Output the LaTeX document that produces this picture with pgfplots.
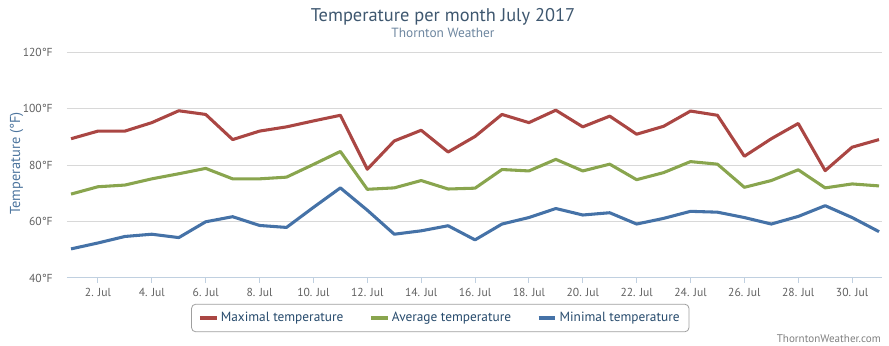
\documentclass[border=0pt]{standalone}
\usepackage{fontspec}
\setmainfont{PT Sans}
\usepackage{pgfplots}
\pgfplotsset{compat=1.18}
\definecolor{cmax}{HTML}{AA4643}
\definecolor{cavg}{HTML}{89A54E}
\definecolor{cmin}{HTML}{4572A7}
\definecolor{titlec}{HTML}{3E576F}
\definecolor{subc}{HTML}{6D869F}
\definecolor{ticklab}{HTML}{606060}
\definecolor{axline}{HTML}{C0D0E0}
\definecolor{gridc}{HTML}{D8D8D8}
\definecolor{ylabc}{HTML}{4D759E}
\definecolor{legtext}{HTML}{274B6D}
\begin{document}
\begin{tikzpicture}[x=1pt,y=1pt]
\useasboundingbox (-50.25,-51) rectangle (616.5,208.5);
\begin{axis}[
  at={(0,0)}, anchor=south west,
  scale only axis, width=611.25pt, height=169.5pt,
  xmin=0.85, xmax=31.11, ymin=40, ymax=120,
  ytick={40,60,80,100,120},
  xtick={2,4,...,30},
  axis x line=bottom, axis y line=left,
  axis line style={-},
  x axis line style={draw=axline, line width=0.75pt},
  y axis line style={draw=none},
  ymajorgrids, grid style={draw=gridc, line width=0.75pt},
  major y tick style={draw=none},
  major x tick style={draw=axline, line width=0.75pt},
  tick align=outside, major tick length=3.75pt,
  /pgf/number format/assume math mode=true,
  yticklabel={\pgfmathprintnumber{\tick}°F},
  xticklabel={\pgfmathprintnumber{\tick}. Jul},
  yticklabel style={font=\fontsize{8.7}{10}\selectfont, text=ticklab, anchor=east, inner sep=0pt, xshift=-6.75pt},
  xticklabel style={font=\fontsize{8.7}{10}\selectfont, text=ticklab, anchor=north, inner sep=0pt, yshift=-4pt},
  ylabel={Temperature (°F)},
  ylabel style={at={(rel axis cs:-0.062,0.507)}, anchor=center, rotate=0, font=\fontsize{10.8}{12}\selectfont, text=ylabc},
  legend columns=3,
  legend style={at={(0.458,-0.177)}, anchor=center, draw=gray!75, rounded corners=3pt, line width=0.6pt,
    font=\fontsize{10}{12}\selectfont, text=legtext, inner xsep=5pt, inner ysep=4pt,
    /tikz/every even column/.append style={column sep=17.5pt}},
  legend image code/.code={\draw[#1, line width=2.4pt] (0pt,0pt) -- (12.5pt,0pt);},
  every axis plot/.append style={line width=2.3pt, line join=round, mark=none},
]
\addplot[cmax] coordinates {
(1,89.3)(2,92.0)(3,92.0)(4,95.0)(5,99.2)(6,97.9)(7,89.0)(8,92.0)(9,93.5)(10,95.6)
(11,97.6)(12,78.5)(13,88.5)(14,92.3)(15,84.6)(16,90.1)(17,97.9)(18,95.0)(19,99.4)(20,93.5)
(21,97.3)(22,90.9)(23,93.7)(24,99.1)(25,97.6)(26,83.1)(27,89.3)(28,94.7)(29,78.0)(30,86.3)(31,89.0)};
\addlegendentry{Maximal temperature}
\addplot[cavg] coordinates {
(1,69.7)(2,72.3)(3,72.9)(4,75.1)(5,76.9)(6,78.8)(7,75.1)(8,75.1)(9,75.7)(10,80.2)
(11,84.8)(12,71.4)(13,71.9)(14,74.5)(15,71.5)(16,71.8)(17,78.4)(18,77.9)(19,82.0)(20,77.9)
(21,80.3)(22,74.8)(23,77.3)(24,81.2)(25,80.3)(26,72.1)(27,74.5)(28,78.3)(29,71.9)(30,73.3)(31,72.6)};
\addlegendentry{Average temperature}
\addplot[cmin] coordinates {
(1,50.3)(2,52.4)(3,54.7)(4,55.5)(5,54.3)(6,59.9)(7,61.7)(8,58.6)(9,57.9)(10,65.0)
(11,71.9)(12,64.0)(13,55.5)(14,56.7)(15,58.5)(16,53.5)(17,59.1)(18,61.4)(19,64.6)(20,62.3)
(21,63.1)(22,59.1)(23,61.1)(24,63.6)(25,63.3)(26,61.4)(27,59.1)(28,61.8)(29,65.6)(30,61.4)(31,56.4)};
\addlegendentry{Minimal temperature}
\end{axis}
\node[text=titlec, font=\fontsize{13.8}{15}\selectfont, inner sep=0pt] at (282,195.75) {Temperature per month July 2017};
\node[text=subc, font=\fontsize{10}{11}\selectfont, inner sep=0pt] at (282,183.75) {Thornton Weather};
\node[text=gray, font=\fontsize{8.3}{9}\selectfont, inner sep=0pt, anchor=east] at (610.5,-45.75) {ThorntonWeather.com};
\end{tikzpicture}
\end{document}
